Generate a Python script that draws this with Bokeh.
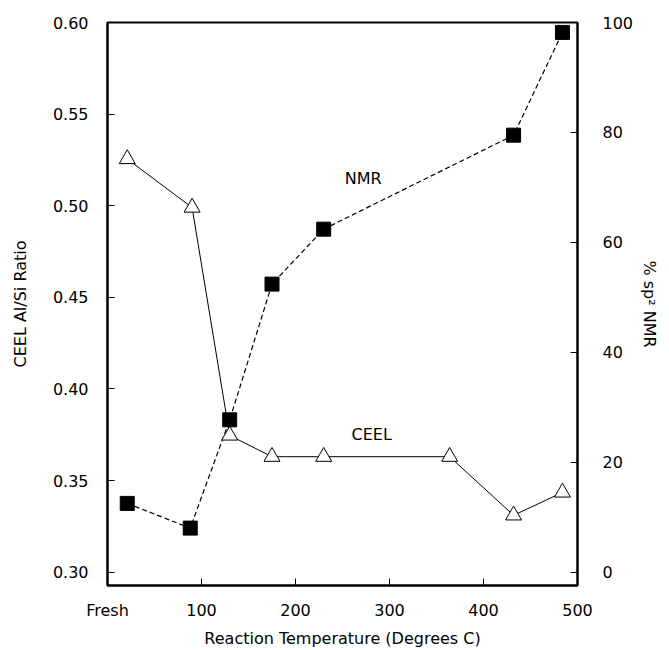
from bokeh.plotting import figure
from bokeh.models import Range1d, LinearAxis, FixedTicker, ColumnDataSource, Label
from bokeh.embed import file_html
from bokeh.resources import INLINE

# ---- data ----
ceel_temp = [21, 90, 130, 175, 230, 364, 432, 484]
ceel_ratio = [0.5255, 0.499, 0.3746, 0.363, 0.363, 0.363, 0.331, 0.3435]

nmr_temp = [21, 88, 130, 175, 230, 432, 484]
nmr_sp2 = [12.5, 8.0, 27.7, 52.4, 62.4, 79.5, 98.2]

x_ticks = [0, 100, 200, 300, 400, 500]
x_tick_labels = ["Fresh", "100", "200", "300", "400", "500"]
left_ticks = [0.30, 0.35, 0.40, 0.45, 0.50, 0.55, 0.60]
left_tick_labels = ["0.30", "0.35", "0.40", "0.45", "0.50", "0.55", "0.60"]
right_ticks = [0, 20, 40, 60, 80, 100]

FONT = "DejaVu Sans"
FS = "16px"

p = figure(width=669, height=650, output_backend="svg", toolbar_location=None,
           x_range=Range1d(0, 500), y_range=Range1d(0.2927, 0.60),
           min_border_left=107, min_border_right=92, min_border_top=22,
           min_border_bottom=62)
p.xgrid.visible = False
p.ygrid.visible = False
p.outline_line_color = "black"
p.outline_line_width = 2
p.background_fill_color = "white"
p.border_fill_color = "white"

p.extra_y_ranges = {"nmr": Range1d(-2.44, 100)}

# left axis
ya = p.yaxis[0]
ya.ticker = FixedTicker(ticks=left_ticks)
ya.major_label_overrides = {t: l for t, l in zip(left_ticks, left_tick_labels)}
ya.axis_label = "CEEL Al/Si Ratio"
ya.major_label_standoff = 19
ya.axis_label_standoff = 20

# bottom axis
xa = p.xaxis[0]
xa.ticker = FixedTicker(ticks=x_ticks)
xa.major_label_overrides = {t: l for t, l in zip(x_ticks, x_tick_labels)}
xa.axis_label = "Reaction Temperature (Degrees C)"
xa.major_label_standoff = 15
xa.axis_label_standoff = 6

# right axis
ra = LinearAxis(y_range_name="nmr", ticker=FixedTicker(ticks=right_ticks),
                axis_label="% sp² NMR")
ra.major_label_standoff = 25
ra.axis_label_standoff = 4
p.add_layout(ra, "right")

for ax in [ya, xa, ra]:
    ax.major_tick_in = 7
    ax.major_tick_out = 0
    ax.minor_tick_in = 0
    ax.minor_tick_out = 0
    ax.major_tick_line_color = "black"
    ax.major_tick_line_width = 1
    ax.axis_line_color = "black"
    ax.axis_line_width = 2
    ax.major_label_text_font = FONT
    ax.major_label_text_font_size = FS
    ax.major_label_text_color = "black"
    ax.axis_label_text_font = FONT
    ax.axis_label_text_font_size = FS
    ax.axis_label_text_font_style = "normal"
    ax.axis_label_text_color = "black"

# NMR series (right axis)
nmr_src = ColumnDataSource(dict(x=nmr_temp, y=nmr_sp2))
p.line("x", "y", source=nmr_src, y_range_name="nmr", line_color="black",
       line_width=1.2, line_dash="5 3")
p.scatter("x", "y", source=nmr_src, y_range_name="nmr", marker="square",
          size=14, fill_color="black", line_color="black")

# CEEL series (left axis)
ceel_src = ColumnDataSource(dict(x=ceel_temp, y=ceel_ratio))
p.line("x", "y", source=ceel_src, line_color="black", line_width=1)
p.scatter("x", "y", source=ceel_src, marker="triangle", size=16,
          fill_color="white", line_color="black", line_width=1)

# series labels
p.add_layout(Label(x=272, y=0.5147, text="NMR", text_align="center",
                   text_baseline="middle", text_font=FONT, text_font_size=FS,
                   text_color="black"))
p.add_layout(Label(x=281, y=0.3751, text="CEEL", text_align="center",
                   text_baseline="middle", text_font=FONT, text_font_size=FS,
                   text_color="black"))

open("out.html", "w").write(file_html(p, INLINE))
